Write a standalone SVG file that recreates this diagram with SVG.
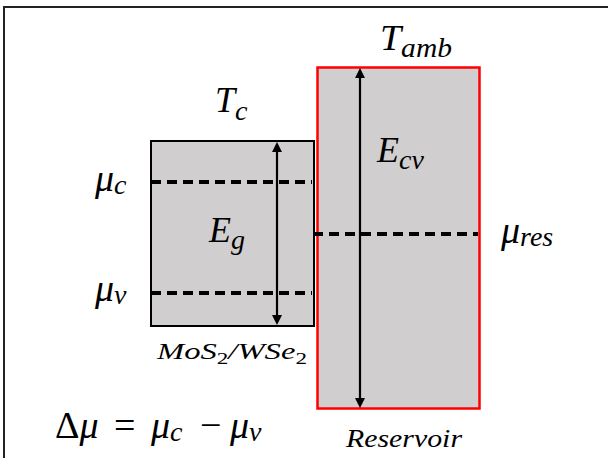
<svg xmlns="http://www.w3.org/2000/svg" width="608" height="458" viewBox="0 0 608 458">
<rect width="608" height="458" fill="#fff"/>
<path d="M4,458 V7 H608" fill="none" stroke="#222" stroke-width="2"/>
<g id="material">
<rect fill="#d0cece" x="151" y="141" width="163" height="185" stroke="#000" stroke-width="2"/>
<text x="157" y="359" font-family="Liberation Serif" font-style="italic" font-size="24" textLength="150" lengthAdjust="spacingAndGlyphs">MoS<tspan font-style="normal" font-size="17" dy="5">2</tspan><tspan dy="-5">/WSe</tspan><tspan font-style="normal" font-size="17" dy="5">2</tspan></text>
</g>
<g id="reservoir">
<rect fill="#d0cece" x="317.5" y="67.5" width="162" height="341" stroke="#f00" stroke-width="2.5"/>
<text x="346" y="447" font-family="Liberation Serif" font-style="italic" font-size="25" textLength="116" lengthAdjust="spacingAndGlyphs">Reservoir</text>
</g>
<g id="connectors" stroke="#000" fill="none">
<line stroke-width="4" stroke-dasharray="10 6" x1="151" y1="182" x2="312" y2="182"/>
<line stroke-width="4" stroke-dasharray="10 6" x1="151" y1="293" x2="312" y2="293"/>
<line stroke-width="4" stroke-dasharray="10 6" x1="313" y1="234" x2="478" y2="234"/>
<line stroke-width="2.2" x1="277" y1="150" x2="277" y2="317"/>
<line stroke-width="2.2" x1="360" y1="76" x2="360" y2="400"/>
<path d="M277,142 L272,152 L282,152 Z M277,325 L272,315 L282,315 Z M360,68 L355,78 L365,78 Z M360,408 L355,398 L365,398 Z" fill="#000" stroke="none"/>
</g>
<g id="labels">
<text x="380" y="50" font-family="Liberation Serif" font-style="italic" font-size="36" textLength="72" lengthAdjust="spacingAndGlyphs">T<tspan font-size="28" dy="7">amb</tspan></text>
<text x="215" y="112" font-family="Liberation Serif" font-style="italic" font-size="36">T<tspan font-size="28" dy="8">c</tspan></text>
<text x="377" y="162" font-family="Liberation Serif" font-style="italic" font-size="36">E<tspan font-size="28" dy="7">cv</tspan></text>
<text x="209" y="242" font-family="Liberation Serif" font-style="italic" font-size="36">E<tspan font-size="28" dy="7">g</tspan></text>
<text x="95" y="191" font-family="Liberation Serif" font-style="italic" font-size="38">μ<tspan font-size="28" dy="3">c</tspan></text>
<text x="95" y="301" font-family="Liberation Serif" font-style="italic" font-size="38">μ<tspan font-size="28" dy="3">v</tspan></text>
<text x="501" y="243" font-family="Liberation Serif" font-style="italic" font-size="38">μ<tspan font-size="28" dy="3">res</tspan></text>
<text x="55" y="438" font-family="Liberation Serif" font-style="italic" font-size="38"><tspan font-style="normal">Δ</tspan>μ<tspan x="114" font-style="normal">=</tspan><tspan x="151">μ</tspan><tspan font-size="28" dy="3">c</tspan><tspan x="200" dy="-3" font-style="normal">−</tspan><tspan x="230">μ</tspan><tspan font-size="28" dy="3">v</tspan></text>
</g>
</svg>
